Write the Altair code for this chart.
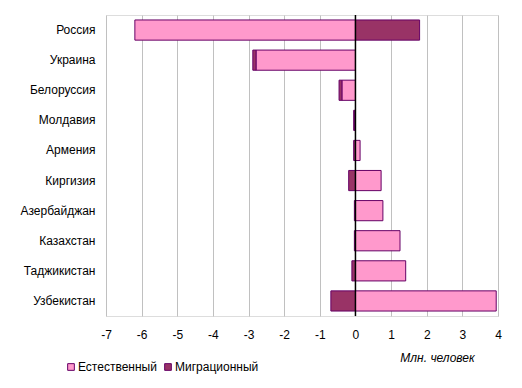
import altair as alt
import pandas as pd

countries = ["Россия", "Украина", "Белоруссия", "Молдавия", "Армения",
             "Киргизия", "Азербайджан", "Казахстан", "Таджикистан", "Узбекистан"]
natural = [-6.19, -2.79, -0.38, -0.02, 0.13, 0.72, 0.77, 1.25, 1.41, 3.95]
migration = [1.80, -0.09, -0.08, -0.03, -0.05, -0.19, -0.03, -0.03, -0.10, -0.69]
series = ["Естественный", "Миграционный"]
colors = ["#FF99CC", "#993366"]
x_ticks = [-7, -6, -5, -4, -3, -2, -1, 0, 1, 2, 3, 4]

rows = []
for c, n, m in zip(countries, natural, migration):
    rows.append({"country": c, "series": series[0], "value": n, "ord": 0})
    rows.append({"country": c, "series": series[1], "value": m, "ord": 1})
df = pd.DataFrame(rows)
zero = pd.DataFrame({"value": [0]})

FONT = "Liberation Sans"

x_axis = alt.Axis(values=x_ticks, ticks=False, domain=False, grid=True,
                  gridColor="#C0C0C0", gridWidth=1, labelPadding=13,
                  labelOverlap=False, labelFlush=False,
                  labelExpr="toString(datum.value)",
                  labelFontSize=12, labelColor="#000000", labelFont=FONT,
                  title="Млн. человек", titleFontStyle="italic",
                  titleFontWeight="normal", titleFontSize=12, titleFont=FONT,
                  titleColor="#000000", titleX=331, titleY=41,
                  titleAlign="center", titleBaseline="middle")
x_scale = alt.Scale(domain=[-7, 4], nice=False, zero=False)

bars = alt.Chart(df).mark_bar(stroke="#660066", strokeWidth=1).encode(
    y=alt.Y("country:N", sort=countries,
            scale=alt.Scale(paddingInner=0.33, paddingOuter=0.165),
            axis=alt.Axis(title=None, ticks=False, domain=False, labelPadding=11,
                          labelFontSize=12, labelColor="#000000", labelFont=FONT)),
    x=alt.X("value:Q", stack="zero", scale=x_scale, axis=x_axis),
    color=alt.Color("series:N", scale=alt.Scale(domain=series, range=colors),
                    legend=alt.Legend(title=None, orient="none", legendX=-41, legendY=346,
                                      direction="horizontal", symbolType="square",
                                      symbolSize=45, symbolStrokeColor="#660066",
                                      symbolStrokeWidth=1, labelFontSize=12,
                                      labelFont=FONT, labelColor="#000000",
                                      columnPadding=5, labelOffset=1)),
    order=alt.Order("ord:Q", sort="ascending"),
)

rule = alt.Chart(zero).mark_rule(color="#000000", strokeWidth=1.5).encode(
    x=alt.X("value:Q", scale=x_scale, axis=x_axis))

chart = alt.layer(bars, rule).properties(
    width=392, height=301,
    autosize=alt.AutoSizeParams(type="none"),
    padding={"left": 98, "top": 7, "right": 8, "bottom": 64},
).configure_view(stroke="#808080", strokeWidth=1).configure(background="#FFFFFF")

chart.save("out.html", embed_options={"renderer": "svg", "actions": False})
